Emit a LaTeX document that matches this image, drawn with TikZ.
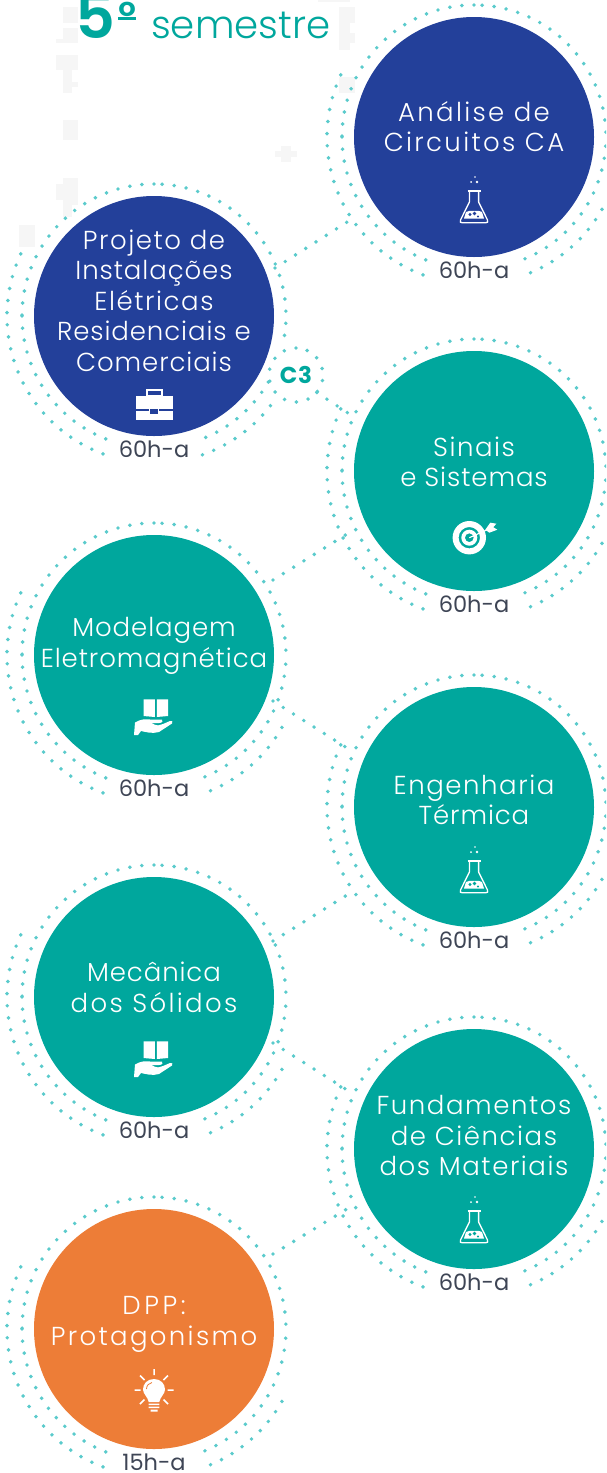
\documentclass[tikz,border=0pt]{standalone}
\usepackage{fontspec}
\usetikzlibrary{calc}
\setmainfont{Poppins}[UprightFont={* Light},BoldFont={* SemiBold}]
\newfontfamily\spaced{Poppins}[UprightFont={* Light},BoldFont={* Bold},LetterSpace=3.5]
\newfontfamily\spb{Poppins}[UprightFont={* Light},LetterSpace=6]
\newfontfamily\spa{Poppins}[UprightFont={* Light},LetterSpace=9]
\newfontfamily\spc{Poppins}[UprightFont={* Light},LetterSpace=14]
\newfontfamily\hourfont{Poppins}
\definecolor{navy}{HTML}{23409A}
\definecolor{tealc}{HTML}{00A79D}
\definecolor{orangec}{HTML}{ED7D37}
\definecolor{dotc}{HTML}{5ACBCC}
\definecolor{lab}{HTML}{3E4555}
\definecolor{ghost}{HTML}{F6F6F6}
\tikzset{
  disc/.style={circle,minimum size=240pt,inner sep=0pt,fill=#1},
  dotline/.style={draw=dotc,line width=3.9pt,line cap=round,dash pattern=on 0pt off 12.15pt},
  title/.style={text=white,align=center,inner sep=0pt,font=\spaced\fontsize{26}{30.5}\selectfont},
  hours/.style={text=lab,anchor=base,inner sep=0pt,font=\hourfont\fontsize{22.5}{26}\selectfont},
  flask/.pic={
    \begin{scope}[yscale=-1]
    \fill[white] (-8,-10) .. controls (-5,-12) and (-3,-11) .. (0,-11) .. controls (3,-12) and (6,-11) .. (8,-10) -- (10,-3.5) -- (-10,-3.5) -- cycle;
    \fill[flaskbg] (-4,-7.5) circle (1.6pt) (0.5,-8.5) circle (1.9pt) (4,-5.5) circle (1.1pt);
    \draw[white,line width=1.3pt,line join=round] (-4.6,-30) -- (-4.6,-20) -- (-13.5,-2) .. controls (-14.5,0) and (-13.5,0.8) .. (-11.5,0.8) -- (11.5,0.8) .. controls (13.5,0.8) and (14.5,0) .. (13.5,-2) -- (4.6,-20) -- (4.6,-30);
    \draw[white,line width=1.6pt] (-6.5,-31) -- (6.5,-31);
    \fill[white] (1,-45) circle (0.8pt) (3,-40) circle (1.4pt) (-3,-40) circle (1pt);
    \end{scope}
  },
  brief/.pic={
    \begin{scope}[yscale=-1]
    \draw[white,line width=2pt] (-7.5,-7) rectangle (7.5,-13);
    \fill[white] (-18.5,-7) rectangle (18.5,6);
    \fill[white] (-18.5,8) rectangle (18.5,17);
    \fill[navy] (-18.5,6) rectangle (18.5,8);
    \draw[white,line width=1pt,fill=navy] (-4.5,5.5) rectangle (4.5,11);
    \end{scope}
  },
  target/.pic={
    \fill[white,even odd rule] (0,0) circle (16.7pt) (0,0) circle (10.7pt);
    \fill[white,even odd rule] (0,0) circle (8pt) (0,0) circle (4.4pt);
    \draw[white,line width=1.1pt] (0,0) -- (18,8);
    \fill[white] (16,8) -- (21,15) -- (27,14) -- (24,10.5) -- (28,8) -- (20,5) -- cycle;
  },
  bookhand/.pic={
    \fill[white] (-10.5,0) -- (-10.5,16.7) -- (0.8,16.7) -- (0.8,-1) -- cycle;
    \fill[white] (2.8,-1) -- (2.8,16.7) -- (14,16.7) -- (14,0) -- cycle;
    \fill[white] (-19,-6.5) .. controls (-13,-3) and (-9,-3) .. (-4,-3.5) -- (8,-3.5) .. controls (10,-5) and (8,-7) .. (5,-7) -- (-3,-7) .. controls (3,-10) and (6,-10) .. (9,-8) -- (16,-5) .. controls (18,-4) and (19.5,-6) .. (18,-7.5) -- (5,-16) .. controls (-2,-18) and (-8,-16) .. (-13,-15) -- (-16,-19) -- (-20,-19) -- cycle;
  },
  bulb/.pic={
    \fill[white] (0,11) .. controls (7,11) and (11,6) .. (11,0.5) .. controls (11,-4) and (6,-7) .. (5.3,-12) -- (-5.3,-12) .. controls (-6,-7) and (-11,-4) .. (-11,0.5) .. controls (-11,6) and (-7,11) .. (0,11) -- cycle;
    \draw[orangec,line width=0.8pt] (-7.5,1) .. controls (-7.5,4.5) and (-5,7) .. (-2,7.5);
    \fill[white] (-5.3,-13.5) rectangle (5.3,-15) (-5.3,-16.5) rectangle (5.3,-18) (-3.5,-19.5) rectangle (3.5,-21.5);
    \draw[white,line width=1.5pt] (0,15) -- (0,21) (-13.5,0) -- (-19.5,0) (13.5,0) -- (19.5,0)
      (-9.5,10) -- (-14,14.5) (9.5,10) -- (14,14.5) (-9.5,-9.5) -- (-14,-14) (9.5,-9.5) -- (14,-14);
  }
}
\newcommand{\ringsets}[5]{%
  \draw[dotline] ([shift={(#1)}]90:132pt) arc[start angle=90,end angle=180,radius=132pt];
  \draw[dotline] ([shift={(#1)}]180:132pt) arc[start angle=180,end angle=250,radius=132pt];
  \draw[dotline] ([shift={(#1)}]86.5:132pt) arc[start angle=86.5,end angle=#2,radius=132pt];
  \draw[dotline] ([shift={(#1)}]#3:132pt) arc[start angle=#3,end angle=-69,radius=132pt];
  \draw[dotline] ([shift={(#1)}]155:147pt) arc[start angle=155,end angle=253,radius=147pt];
  \draw[dotline] ([shift={(#1)}]#4:147pt) arc[start angle=#4,end angle=-71,radius=147pt];
  \node[hours] at ($(#1)+(0,-141.5)$) {#5};
}
\begin{document}
\begin{tikzpicture}[x=1pt,y=1pt]
\path[use as bounding box,clip] (0,0) rectangle (606,-1473);
\fill[white] (0,0) rectangle (606,-1473);
\foreach \xa/\ya/\xb/\yb in {63/-7/78/-23,63/-28/78/-43,56/-39/78/-43,56/-55/78/-70,63/-70/72/-93,72/-82/78/-87,63/-120/78/-140,56/-184/78/-200,63/-178/78/-205,63/-205/72/-217,19/-225/35/-247,339/-7/355/-23,339/-23/350/-50,339/-33/355/-43,318/0/350/-2,339/-77/355/-93,275/-151/297/-157,281/-146/291/-162}
  \fill[ghost] (\xa,\ya) rectangle (\xb,\yb);
% title
\node[anchor=base west,inner sep=0pt,text=tealc,font=\bfseries\fontsize{62}{62}\selectfont] (five) at (75,-38) {5};
\node[anchor=base west,inner sep=0pt,text=tealc,font=\bfseries\fontsize{40}{40}\selectfont] (ord) at (118,-30) {\char"00BA};
\fill[tealc] (118,-16.5) rectangle (136,-19.5);
\node[anchor=base west,inner sep=0pt,text=tealc,font=\fontsize{38.7}{40}\selectfont] (sem) at (151,-38) {semestre};
% discs
\node[disc=navy] (a) at (474,-137) {};
\node[disc=navy] (p) at (154,-316) {};
\node[disc=tealc] (s) at (474,-471) {};
\node[disc=tealc] (m) at (154,-655) {};
\node[disc=tealc] (e) at (474,-807) {};
\node[disc=tealc] (c) at (154,-997) {};
\node[disc=tealc] (f) at (474,-1149) {};
\node[disc=orangec] (d) at (154,-1329) {};
\ringsets{a}{0}{-4}{-29.5}{60h-a}
\ringsets{p}{-12}{-30}{-37.6}{60h-a}
\ringsets{s}{0}{-4}{-29.5}{60h-a}
\ringsets{m}{0}{-4}{-29.5}{60h-a}
\ringsets{e}{0}{-4}{-29.5}{60h-a}
\ringsets{c}{0}{-4}{-29.5}{60h-a}
\ringsets{f}{0}{-4}{-29.5}{60h-a}
\ringsets{d}{0}{-4}{-29.5}{15h-a}
% C3
\node[circle,minimum size=54pt,inner sep=0pt,text=tealc,font=\spaced\bfseries\fontsize{23}{24}\selectfont] (k) at (296,-375) {C3};
\draw[dotline] (k.center) ++(90:27pt) arc[start angle=90,end angle=450,radius=27pt];
% connectors
\draw[dotline] ($(p)+(121,48)$) -- ($(a)+(-119,-80)$);
\draw[dotline] (k.-40) -- ($(s)+(-120,54)$);
\draw[dotline] ($(m)+(119,75)$) -- ($(s)+(-119,-58)$);
\draw[dotline] ($(m)+(119,-46)$) -- ($(e)+(-119,54)$);
\draw[dotline] ($(c)+(119,56)$) -- ($(e)+(-119,-83)$);
\draw[dotline] ($(c)+(119,-46)$) -- ($(f)+(-119,54)$);
\draw[dotline] ($(d)+(119,75)$) -- ($(f)+(-119,-55)$);
% texts
\node[title] (ta) at (474,-130.5) {\strut{\spa Análise de}\\\strut{\spa Circuitos CA}};
\node[title] (tp) at (154,-304) {\strut{\spb Projeto de}\\\strut Instalações\\\strut{\spb Elétricas}\\\strut Residenciais e\\\strut Comerciais};
\node[title] (ts) at (474,-465.5) {\strut{\spb Sinais}\\\strut e Sistemas};
\node[title] (tm) at (154,-646) {\strut Modelagem\\\strut Eletromagnética};
\node[title] (te) at (474,-803.5) {\strut{\spb Engenharia}\\\strut Térmica};
\node[title] (tc) at (154,-991) {\strut Mecânica\\\strut{\spa dos Sólidos}};
\node[title] (tf) at (474,-1139) {\strut{\spb Fundamentos}\\\strut{\spb de Ciências}\\\strut{\spb dos Materiais}};
\node[title] (td) at (154,-1324) {\strut{\spc DPP:}\\\strut{\spa Protagonismo}};
% icons
\colorlet{flaskbg}{navy}
\pic at (474,-222) {flask};
\colorlet{flaskbg}{tealc}
\pic at (474,-892) {flask};
\pic at (474,-1242) {flask};
\pic at (154,-403) {brief};
\pic at (469.3,-537.7) {target};
\pic at (154,-716) {bookhand};
\pic at (154,-1058) {bookhand};
\pic at (154,-1390) {bulb};
\end{tikzpicture}
\end{document}
